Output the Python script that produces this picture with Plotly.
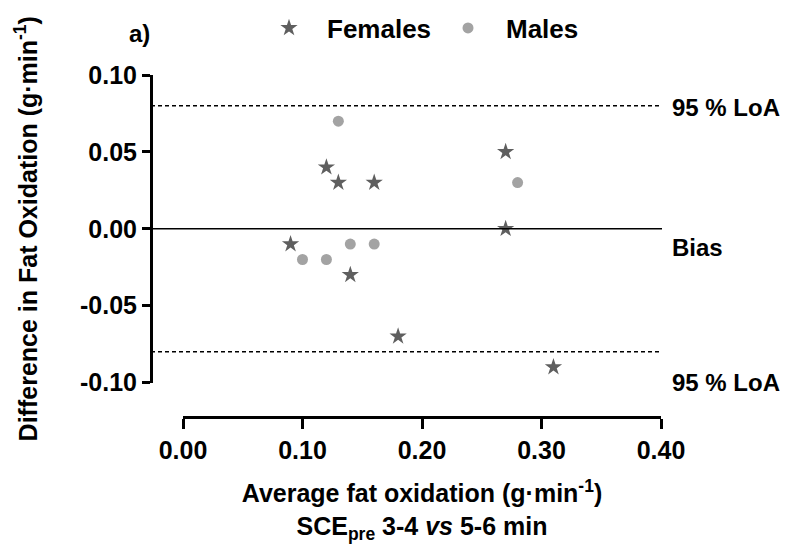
import plotly.graph_objects as go

# ---- data ----
females_x = [0.09, 0.12, 0.13, 0.14, 0.16, 0.18, 0.27, 0.27, 0.31]
females_y = [-0.01, 0.04, 0.03, -0.03, 0.03, -0.07, 0.05, 0.00, -0.09]
males_x = [0.10, 0.12, 0.13, 0.14, 0.16, 0.28]
males_y = [-0.02, -0.02, 0.07, -0.01, -0.01, 0.03]
bias = 0.0
loa_upper = 0.08
loa_lower = -0.08
x_ticks = [0.0, 0.1, 0.2, 0.3, 0.4]
x_ticklabels = ["0.00", "0.10", "0.20", "0.30", "0.40"]
y_ticks = [-0.10, -0.05, 0.0, 0.05, 0.10]
y_ticklabels = ["-0.10", "-0.05", "0.00", "0.05", "0.10"]

W, H = 785, 544
FONT = "Liberation Sans, Arial, Helvetica, sans-serif"

def px(xp):
    return xp / W

def py(yp):
    return 1 - yp / H

fig = go.Figure()
fig.add_trace(go.Scatter(
    x=females_x, y=females_y, mode="markers", name="Females",
    marker=dict(symbol="star", size=13, color="#5f5f5f", line=dict(width=0)),
))
fig.add_trace(go.Scatter(
    x=males_x, y=males_y, mode="markers", name="Males",
    marker=dict(symbol="circle", size=11, color="#a3a3a3", line=dict(width=0)),
))

x_left_paper = px(151)
x_right_paper = px(662)

# bias and limits of agreement
fig.add_shape(type="line", xref="paper", yref="y", x0=x_left_paper, x1=x_right_paper,
              y0=bias, y1=bias, line=dict(color="black", width=1.6))
for v in (loa_upper, loa_lower):
    fig.add_shape(type="line", xref="paper", yref="y", x0=x_left_paper, x1=x_right_paper,
                  y0=v, y1=v, line=dict(color="black", width=1.3, dash="4px,3px"))

ann_font = dict(family=FONT, size=24, color="black", weight="bold")
fig.add_annotation(text="95 % LoA", xref="paper", yref="y", x=px(670), y=loa_upper,
                   xanchor="left", yanchor="middle", yshift=-2, showarrow=False, font=ann_font)
fig.add_annotation(text="Bias", xref="paper", yref="y", x=px(670), y=bias,
                   xanchor="left", yanchor="middle", yshift=-19, showarrow=False, font=ann_font)
fig.add_annotation(text="95 % LoA", xref="paper", yref="y", x=px(670), y=loa_lower,
                   xanchor="left", yanchor="middle", yshift=-31, showarrow=False, font=ann_font)
fig.add_annotation(text="a)", xref="paper", yref="paper", x=px(139), y=py(33),
                   xanchor="center", yanchor="middle", showarrow=False,
                   font=dict(family=FONT, size=24, color="black", weight="bold"))

fig.update_layout(
    width=W, height=H,
    margin=dict(l=0, r=0, t=0, b=0, autoexpand=False),
    paper_bgcolor="white", plot_bgcolor="white",
    font=dict(family=FONT, color="black"),
    showlegend=True,
    legend=dict(orientation="h", x=px(251), xanchor="left", y=py(28), yanchor="middle",
                itemwidth=66, entrywidth=98, entrywidthmode="pixels",
                font=dict(family=FONT, size=26, color="black", weight="bold"),
                bgcolor="rgba(0,0,0,0)"),
    xaxis=dict(
        domain=[px(183), px(661)], range=[0, 0.4],
        anchor="free", position=py(417), automargin=False,
        showline=True, linecolor="black", linewidth=3,
        ticks="outside", ticklen=10, tickwidth=3, tickcolor="black",
        tickvals=x_ticks, ticktext=x_ticklabels,
        tickfont=dict(family=FONT, size=25, color="black", weight="bold"),
        showgrid=False, zeroline=False,
        title=dict(text="Average fat oxidation (g·min<sup>-1</sup>)<br>SCE<sub>pre</sub> 3-4 <i>vs</i> 5-6 min",
                   font=dict(family=FONT, size=25, color="black", weight="bold"), standoff=27),
    ),
    yaxis=dict(
        domain=[py(382.5), py(75)], range=[-0.10, 0.10],
        anchor="free", position=px(151), automargin=False,
        showline=True, linecolor="black", linewidth=3,
        ticks="outside", ticklen=8, tickwidth=3, tickcolor="black",
        tickvals=y_ticks, ticktext=y_ticklabels,
        tickfont=dict(family=FONT, size=25, color="black", weight="bold"),
        showgrid=False, zeroline=False,
        title=dict(text="Difference in Fat Oxidation (g·min<sup>-1</sup>)",
                   font=dict(family=FONT, size=25, color="black", weight="bold"), standoff=34),
    ),
)

# remove the browser's default 8px page margin so the figure fills the window exactly
fig.write_html("out.html",
               config={"displayModeBar": False},
               post_script="document.body.style.margin='0';document.body.style.overflow='hidden';")
